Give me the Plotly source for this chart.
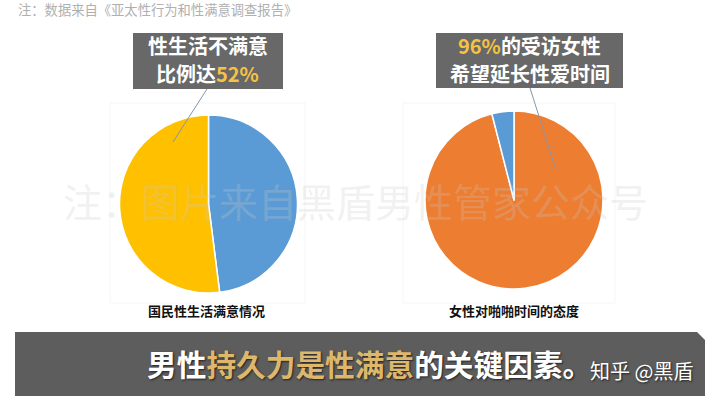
import plotly.graph_objects as go

W, H = 720, 401

# ---- data ----
sat_labels = ["满意", "不满意"]
sat_values = [48, 52]
sat_colors = ["#5b9bd5", "#ffc000"]

time_labels = ["希望延长", "不希望"]
time_values = [96, 4]
time_colors = ["#ed7d31", "#5b9bd5"]

note_text = "注：数据来自《亚太性行为和性满意调查报告》"
watermark = "注：图片来自黑盾男性管家公众号"
left_title = "国民性生活满意情况"
right_title = "女性对啪啪时间的态度"

FONT = "Noto Sans CJK SC"
GOLD = "#f5c242"
TAN = "#dcb76c"


def px(x):
    return x / W


def py(y):
    return 1 - y / H


def dom(cx, cy, r):
    return dict(x=[px(cx - r), px(cx + r)], y=[py(cy + r), py(cy - r)])


fig = go.Figure()

fig.add_trace(go.Pie(
    labels=sat_labels, values=sat_values, sort=False, direction="clockwise",
    marker=dict(colors=sat_colors, line=dict(color="white", width=1.5)),
    textinfo="none", hoverinfo="skip", showlegend=False,
    domain=dom(208.5, 204, 89),
))
fig.add_trace(go.Pie(
    labels=time_labels, values=time_values, sort=False, direction="clockwise",
    marker=dict(colors=time_colors, line=dict(color="white", width=1.5)),
    textinfo="none", hoverinfo="skip", showlegend=False,
    domain=dom(514, 200, 89),
))

shapes = []
# faint chart area borders
shapes.append(dict(type="rect", xref="paper", yref="paper",
                   x0=px(110), x1=px(305), y0=py(303), y1=py(103),
                   line=dict(color="#f6f6f6", width=1), layer="below"))
shapes.append(dict(type="rect", xref="paper", yref="paper",
                   x0=px(403), x1=px(615), y0=py(303), y1=py(103),
                   line=dict(color="#f6f6f6", width=1), layer="below"))
# callout boxes
shapes.append(dict(type="rect", xref="paper", yref="paper",
                   x0=px(133), x1=px(283), y0=py(89), y1=py(33),
                   fillcolor="#686868", line=dict(width=0)))
shapes.append(dict(type="rect", xref="paper", yref="paper",
                   x0=px(436), x1=px(623), y0=py(88), y1=py(33),
                   fillcolor="#686868", line=dict(width=0)))
# leader lines
shapes.append(dict(type="line", xref="paper", yref="paper",
                   x0=px(207), y0=py(89), x1=px(173), y1=py(142),
                   line=dict(color="#8497b0", width=1)))
shapes.append(dict(type="line", xref="paper", yref="paper",
                   x0=px(530), y0=py(88), x1=px(556), y1=py(170),
                   line=dict(color="#8497b0", width=1)))
# bottom band with chamfered top-right corner
path = "M {},{} L {},{} L {},{} L {},{} L {},{} Z".format(
    px(15), py(332), px(697), py(332), px(705), py(340),
    px(705), py(396), px(15), py(396))
shapes.append(dict(type="path", xref="paper", yref="paper", path=path,
                   fillcolor="#5d5d5d", line=dict(width=0)))

ann = []


def text(x, y, s, size, color, bold=False, xanchor="center", shadow=None):
    f = dict(family=FONT, size=size, color=color)
    if bold:
        f["weight"] = "bold"
    if shadow:
        f["shadow"] = shadow
    ann.append(dict(x=px(x), y=py(y), xref="paper", yref="paper", text=s,
                    showarrow=False, xanchor=xanchor, yanchor="middle", font=f))


text(16, 9, note_text, 13.3, "#b0b0b0", xanchor="left")
text(208, 45.5, "性生活不满意", 20, "white", bold=True)
text(208, 73.5, "比例达<span style='color:%s'>52%%</span>" % GOLD, 20, "white", bold=True)
text(529.5, 45.5, "<span style='color:%s'>96%%</span>的受访女性" % GOLD, 20, "white", bold=True)
text(529.5, 73.5, "希望延长性爱时间", 20, "white", bold=True)
text(207, 310, left_title, 13, "#111111", bold=True)
text(514, 310, right_title, 13, "#111111", bold=True)
text(355, 200, watermark, 39, "rgba(200,200,200,0.25)")
text(145, 363,
     "男性<span style='color:%s'>持久力是性满意</span>的关键因素。" % TAN,
     29.7, "white", bold=True, xanchor="left", shadow="1px 1px 2px #222")
text(588, 370, "知乎 @黑盾", 20, "white", xanchor="left", shadow="1px 1px 2px #222")

fig.update_layout(
    width=W, height=H, margin=dict(l=0, r=0, t=0, b=0),
    paper_bgcolor="white", plot_bgcolor="white",
    shapes=shapes, annotations=ann,
)

fig.write_html("out.html")
